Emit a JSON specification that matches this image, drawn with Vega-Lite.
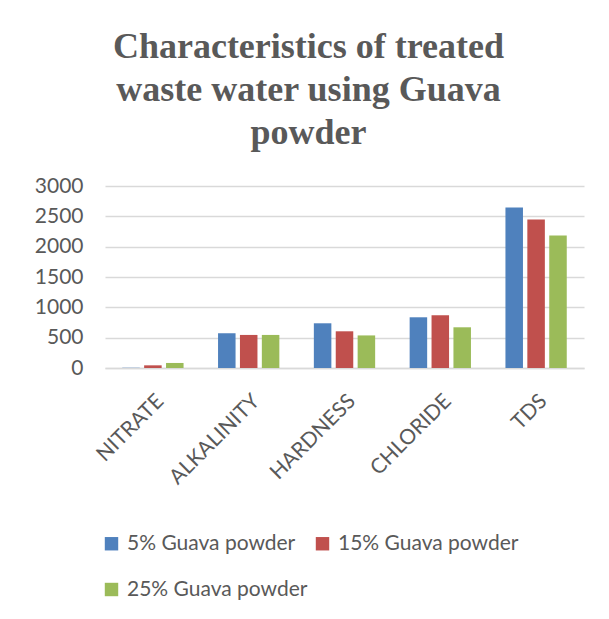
{
  "$schema": "https://vega.github.io/schema/vega-lite/v6.json",
  "autosize": "none",
  "width": 479,
  "height": 182,
  "padding": {"left": 105, "top": 186, "right": 25, "bottom": 251},
  "background": "white",
  "title": {
    "text": ["Characteristics of treated", "waste water using Guava", "powder"],
    "font": "Liberation Serif",
    "fontSize": 36,
    "fontWeight": "bold",
    "color": "#595959",
    "lineHeight": 43,
    "anchor": "middle",
    "dx": -36,
    "offset": 23
  },
  "data": {
    "values": [
      {"param": "NITRATE", "series": "5% Guava powder", "value": 5},
      {"param": "NITRATE", "series": "15% Guava powder", "value": 44},
      {"param": "NITRATE", "series": "25% Guava powder", "value": 83},
      {"param": "ALKALINITY", "series": "5% Guava powder", "value": 572},
      {"param": "ALKALINITY", "series": "15% Guava powder", "value": 545},
      {"param": "ALKALINITY", "series": "25% Guava powder", "value": 545},
      {"param": "HARDNESS", "series": "5% Guava powder", "value": 737},
      {"param": "HARDNESS", "series": "15% Guava powder", "value": 605},
      {"param": "HARDNESS", "series": "25% Guava powder", "value": 537},
      {"param": "CHLORIDE", "series": "5% Guava powder", "value": 836},
      {"param": "CHLORIDE", "series": "15% Guava powder", "value": 869},
      {"param": "CHLORIDE", "series": "25% Guava powder", "value": 671},
      {"param": "TDS", "series": "5% Guava powder", "value": 2647},
      {"param": "TDS", "series": "15% Guava powder", "value": 2449},
      {"param": "TDS", "series": "25% Guava powder", "value": 2185}
    ]
  },
  "mark": {"type": "bar"},
  "encoding": {
    "x": {
      "field": "param",
      "type": "nominal",
      "sort": ["NITRATE", "ALKALINITY", "HARDNESS", "CHLORIDE", "TDS"],
      "scale": {"paddingInner": 0.36, "paddingOuter": 0.18},
      "axis": {
        "title": null,
        "labelAngle": -45,
        "labelFont": "Lato",
        "labelFontSize": 21,
        "labelColor": "#595959",
        "labelPadding": 22,
        "ticks": false,
        "domainColor": "#d9d9d9",
        "domainWidth": 1.5
      }
    },
    "xOffset": {
      "field": "series",
      "type": "nominal",
      "sort": ["5% Guava powder", "15% Guava powder", "25% Guava powder"],
      "scale": {"paddingInner": 0.2, "paddingOuter": 0}
    },
    "y": {
      "field": "value",
      "type": "quantitative",
      "scale": {"domain": [0, 3000]},
      "axis": {
        "title": null,
        "values": [0, 500, 1000, 1500, 2000, 2500, 3000],
        "format": "d",
        "labelFont": "Lato",
        "labelFontSize": 21,
        "labelColor": "#595959",
        "labelPadding": 22,
        "ticks": false,
        "domain": false,
        "gridColor": "#d9d9d9",
        "gridWidth": 1.5
      }
    },
    "color": {
      "field": "series",
      "type": "nominal",
      "scale": {
        "domain": ["5% Guava powder", "25% Guava powder", "15% Guava powder"],
        "range": ["#4f81bd", "#9bbb59", "#c0504d"]
      },
      "legend": {
        "title": null,
        "orient": "none",
        "legendX": -4,
        "legendY": 347,
        "columns": 2,
        "symbolType": "square",
        "symbolSize": 180,
        "symbolStrokeWidth": 0,
        "labelFont": "Lato",
        "labelFontSize": 21,
        "labelColor": "#595959",
        "labelOffset": 5,
        "rowPadding": 24,
        "columnPadding": 4,
        "labelLimit": 300
      }
    }
  },
  "config": {"view": {"stroke": null}}
}
